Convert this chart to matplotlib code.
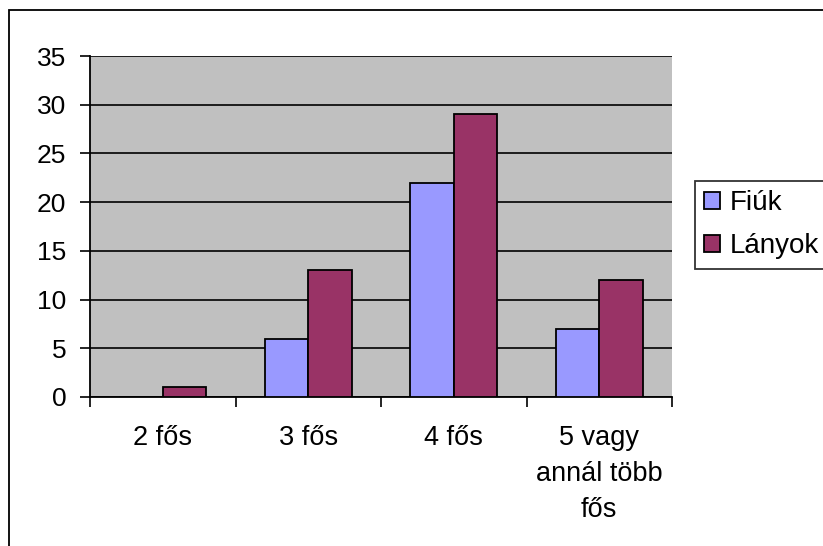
import numpy as np
import matplotlib.pyplot as plt
from matplotlib.patches import Rectangle

categories = ["2 fős", "3 fős", "4 fős", "5 vagy\nannál több\nfős"]
fiuk = [0, 6, 22, 7]
lanyok = [1, 13, 29, 12]

plt.rcParams['font.family'] = ['Liberation Sans', 'DejaVu Sans']

W, H = 823, 546
fig = plt.figure(figsize=(W / 100, H / 100), dpi=100)

# outer chart frame (right and bottom edges fall outside the image)
fig.patches.append(Rectangle((9 / W, -0.1), 1.2, 1 - 10 / H + 0.1, transform=fig.transFigure,
                             fill=False, edgecolor='black', linewidth=1.3))

ax = fig.add_axes([90 / W, 149 / H, 582 / W, 341 / H])
ax.set_facecolor('#C0C0C0')

x = np.arange(len(categories))
w = 0.3
ax.bar(x - w / 2, fiuk, w, color='#9999FF', edgecolor='black', linewidth=1.3, label='Fiúk', zorder=3)
ax.bar(x + w / 2, lanyok, w, color='#993366', edgecolor='black', linewidth=1.3, label='Lányok', zorder=3)

ax.set_xlim(-0.5, 3.5)
ax.set_ylim(0, 35)
ax.set_yticks(range(0, 36, 5))
ax.yaxis.grid(True, color='black', linewidth=1.2, zorder=1)
ax.set_axisbelow(True)

ax.set_xticks(x)
ax.set_xticklabels(categories, linespacing=1.5, va='top')
ax.set_xticks(np.arange(-0.5, 4, 1), minor=True)
ax.tick_params(axis='x', which='major', length=0, pad=20, labelsize=19.5)
ax.tick_params(axis='x', which='minor', length=7, width=1.2, direction='out')
ax.tick_params(axis='y', length=7, width=1.2, pad=10, labelsize=19)

for s in ['top', 'right']:
    ax.spines[s].set_visible(False)
for s in ['left', 'bottom']:
    ax.spines[s].set_linewidth(1.3)

leg = fig.legend(loc='upper left', bbox_to_anchor=(695 / W, 1 - 181 / H), frameon=True,
                 fontsize=20, handlelength=0.55, handleheight=0.55, handletextpad=0.36,
                 borderpad=0.34, labelspacing=0.6, fancybox=False, borderaxespad=0)
leg.get_frame().set_edgecolor('black')
leg.get_frame().set_linewidth(1.3)

fig.savefig('out.png', dpi=100)
